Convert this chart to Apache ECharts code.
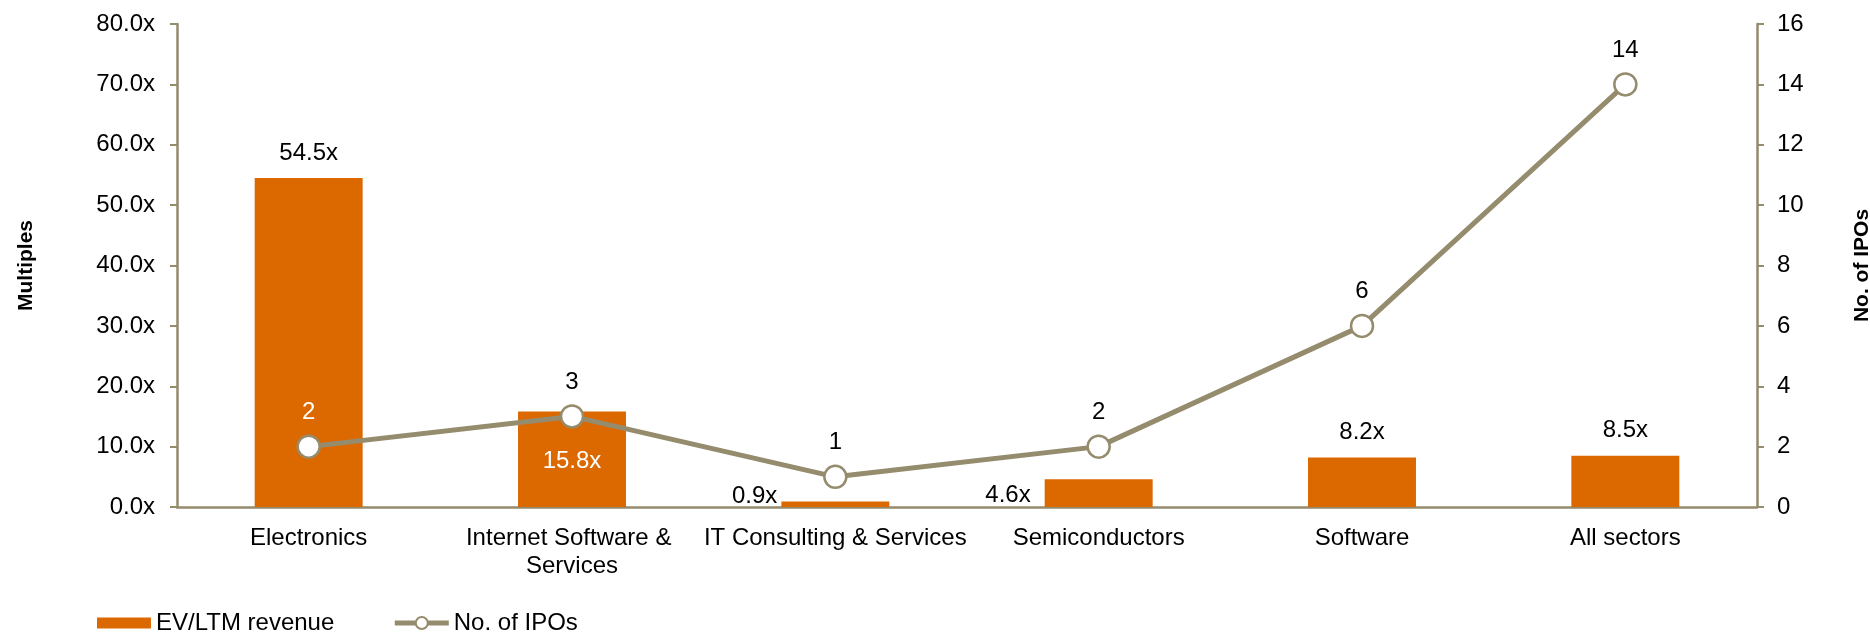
<!DOCTYPE html>
<html>
<head>
<meta charset="utf-8">
<script src="https://cdn.jsdelivr.net/npm/echarts@6/dist/echarts.min.js"></script>
<style>
  html, body { margin: 0; padding: 0; background: #fff; }
  #chart { width: 1870px; height: 640px; }
</style>
</head>
<body>
<div id="chart"></div>
<script>
const sectors = ['Electronics', 'Internet Software & Services', 'IT Consulting & Services', 'Semiconductors', 'Software', 'All sectors']
const evRevenue = [54.5, 15.8, 0.9, 4.6, 8.2, 8.5]
const ipoCount = [2, 3, 1, 2, 6, 14]

const orange = '#DC6900'
const olive = '#958B6D'
const font = 'Liberation Sans, Arial, sans-serif'

// label placement per bar, the way the original chart has them
const barLabels = [
  { position: 'top', distance: 13 },
  { position: 'insideTop', distance: 38, color: '#fff' },
  { position: 'left', distance: 4, offset: [0, -8] },
  { position: 'left', distance: 14, offset: [0, 2] },
  { position: 'top', distance: 13 },
  { position: 'top', distance: 13 }
]

const chart = echarts.init(document.getElementById('chart'))
chart.setOption({
  animation: false,
  textStyle: { fontFamily: font, color: '#000' },
  grid: { left: 177, right: 113, top: 24, bottom: 133, outerBoundsMode: 'none' },
  legend: {
    left: 92,
    bottom: 0,
    itemGap: 58,
    itemWidth: 54,
    itemHeight: 15,
    textStyle: { fontSize: 24, color: '#000', fontFamily: font },
    data: [
      // thin rect kept inside a taller box so the line item can get a bigger marker
      { name: 'EV/LTM revenue', icon: 'path://M0,0h0.01v0.01h-0.01zM0,2h54v11h-54zM0,15h0.01v0.01h-0.01z' },
      { name: 'No. of IPOs', lineStyle: { width: 5 }, itemStyle: { borderWidth: 2 } }
    ]
  },
  xAxis: {
    type: 'category',
    data: sectors,
    axisLine: { lineStyle: { color: olive, width: 2.5 } },
    axisTick: { length: 7, lineStyle: { color: olive, width: 2 } },
    axisLabel: {
      fontSize: 24,
      color: '#000',
      margin: 17,
      lineHeight: 28,
      width: 275,
      overflow: 'break',
      interval: 0
    }
  },
  yAxis: [
    {
      type: 'value',
      min: 0,
      max: 80,
      interval: 10,
      name: 'Multiples',
      nameLocation: 'middle',
      nameGap: 140,
      nameTextStyle: { fontSize: 21, fontWeight: 'bold', color: '#000' },
      axisLine: { show: true, lineStyle: { color: olive, width: 2.5 } },
      axisTick: { show: true, length: 7, lineStyle: { color: olive, width: 2 } },
      splitLine: { show: false },
      axisLabel: {
        fontSize: 24,
        color: '#000',
        margin: 22,
        formatter: v => v.toFixed(1) + 'x'
      }
    },
    {
      type: 'value',
      min: 0,
      max: 16,
      interval: 2,
      name: 'No. of IPOs',
      nameLocation: 'middle',
      nameGap: 95,
      nameRotate: 90,
      nameTextStyle: { fontSize: 21, fontWeight: 'bold', color: '#000' },
      axisLine: { show: true, lineStyle: { color: olive, width: 2.5 } },
      axisTick: { show: true, length: 7, lineStyle: { color: olive, width: 2 } },
      splitLine: { show: false },
      axisLabel: { fontSize: 24, color: '#000', margin: 20 }
    }
  ],
  series: [
    {
      name: 'EV/LTM revenue',
      type: 'bar',
      yAxisIndex: 0,
      barWidth: '41%',
      itemStyle: { color: orange },
      label: {
        show: true,
        fontSize: 24,
        color: '#000',
        formatter: p => p.value.toFixed(1) + 'x'
      },
      data: evRevenue.map((v, i) => ({ value: v, label: barLabels[i] }))
    },
    {
      name: 'No. of IPOs',
      type: 'line',
      yAxisIndex: 1,
      symbol: 'circle',
      symbolSize: 22,
      lineStyle: { color: olive, width: 5 },
      itemStyle: { color: '#fff', borderColor: olive, borderWidth: 2.5 },
      label: {
        show: true,
        position: 'top',
        distance: 10,
        fontSize: 24,
        color: '#000'
      },
      data: ipoCount.map((v, i) => i === 0 ? { value: v, label: { color: '#fff' } } : v)
    }
  ]
})
window.addEventListener('resize', () => chart.resize())
</script>
</body>
</html>
